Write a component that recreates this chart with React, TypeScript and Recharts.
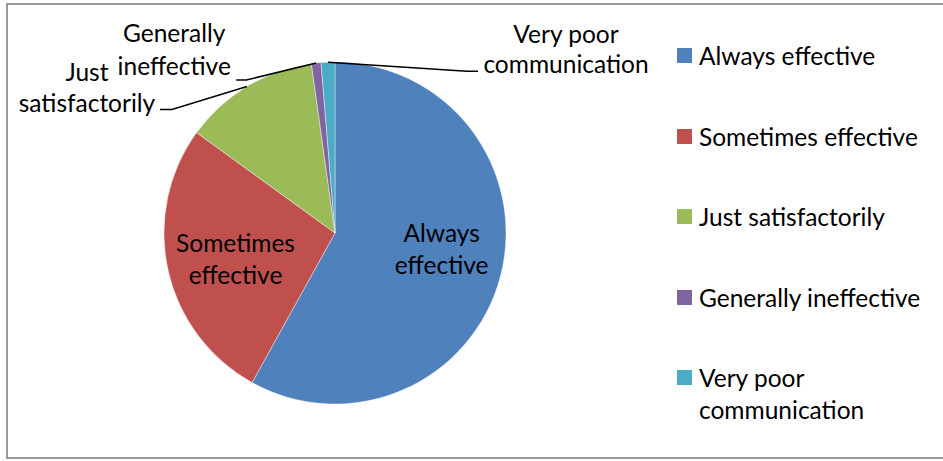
import { PieChart, Pie, Cell, Legend } from "recharts";

const categories = [
  "Always effective",
  "Sometimes effective",
  "Just satisfactorily",
  "Generally ineffective",
  "Very poor communication",
];
const shares = [58.0, 26.9, 12.8, 0.9, 1.3];
const colors = ["#4F81BD", "#C0504D", "#9BBB59", "#8064A2", "#4BACC6"];

// label text split into lines, as Excel wrapped them
const labelLines = [
  ["Always", "effective"],
  ["Sometimes", "effective"],
  ["Just", "satisfactorily"],
  ["Generally", "ineffective"],
  ["Very poor", "communication"],
];

const data = categories.map((name, i) => ({ name, value: shares[i] }));

const FONT = "Lato, 'Open Sans', sans-serif";
const FONT_SIZE = 24.5;
const RADIAN = Math.PI / 180;

// small nudges for the labels drawn inside their slices
const inside: Record<number, number[]> = {
  0: [4, -11],
  1: [4, 3],
};

// outside labels: elbow, line end and text centre, relative to the slice's outer edge point
const outside: Record<number, { elbow: number[]; end: number[]; text: number[]; l1: number; l2: number }> = {
  2: { elbow: [-75, 23], end: [-87, 23], text: [-160, 0], l1: -15, l2: 16 },
  3: { elbow: [-70, 17], end: [-80, 17], text: [-142, 0], l1: -31, l2: 2 },
  4: { elbow: [139, 9], end: [150, 9], text: [238, 0], l1: -29, l2: 1 },
};

const Txt = ({ x, y, children }: { x: number; y: number; children: string }) => (
  <text
    x={x}
    y={y}
    textAnchor="middle"
    dominantBaseline="central"
    fill="#000"
    fontFamily={FONT}
    fontSize={FONT_SIZE}
  >
    {children}
  </text>
);

const renderLabel = (props: any) => {
  const { cx, cy, midAngle, outerRadius, index } = props;
  const cos = Math.cos(-midAngle * RADIAN);
  const sin = Math.sin(-midAngle * RADIAN);
  const lines = labelLines[index];

  if (!outside[index]) {
    const r = outerRadius * 0.62;
    const nudge = inside[index] || [0, 0];
    const x = cx + r * cos + nudge[0];
    const y = cy + r * sin + nudge[1];
    return (
      <g>
        <Txt x={x} y={y - 16}>{lines[0]}</Txt>
        <Txt x={x} y={y + 16}>{lines[1]}</Txt>
      </g>
    );
  }

  const o = outside[index];
  const ox = cx + outerRadius * cos;
  const oy = cy + outerRadius * sin;
  const tx = ox + o.text[0];
  return (
    <g>
      <polyline
        points={`${ox},${oy} ${ox + o.elbow[0]},${oy + o.elbow[1]} ${ox + o.end[0]},${oy + o.end[1]}`}
        fill="none"
        stroke="#000"
        strokeWidth={1.5}
      />
      <Txt x={tx} y={oy + o.l1}>{lines[0]}</Txt>
      <Txt x={tx} y={oy + o.l2}>{lines[1]}</Txt>
    </g>
  );
};

const renderLegend = () => (
  <div style={{ fontFamily: FONT, fontSize: FONT_SIZE, color: "#000" }}>
    {categories.map((name, i) => (
      <div
        key={name}
        style={{ display: "flex", alignItems: "flex-start", marginBottom: 48.5, lineHeight: "32px" }}
      >
        <span
          style={{
            width: 15,
            height: 15,
            background: colors[i],
            marginTop: 8,
            marginRight: 7,
            flexShrink: 0,
          }}
        />
        <span style={{ width: 235 }}>{name}</span>
      </div>
    ))}
  </div>
);

export default function App() {
  return (
    <div style={{ position: "absolute", left: 0, top: 0, width: 943, height: 461, background: "#fff", overflow: "hidden" }}>
      <div
        style={{
          position: "absolute",
          left: 6,
          top: 3,
          width: 945,
          height: 456,
          border: "2px solid #9a9a9a",
          boxSizing: "border-box",
        }}
      />
      <PieChart
        width={943}
        height={461}
        margin={{ top: 0, right: 0, bottom: 0, left: 0 }}
        style={{ position: "absolute", left: 0, top: 0 }}
      >
        <Pie
          data={data}
          dataKey="value"
          nameKey="name"
          cx={335}
          cy={233}
          outerRadius={171}
          startAngle={90}
          endAngle={-270}
          stroke="#ffffff"
          strokeWidth={0.4}
          label={renderLabel}
          labelLine={false}
          isAnimationActive={false}
        >
          {data.map((d, i) => (
            <Cell key={d.name} fill={colors[i]} />
          ))}
        </Pie>
        <Legend
          layout="vertical"
          verticalAlign="top"
          align="right"
          content={renderLegend}
          wrapperStyle={{ left: 677, top: 40, width: 262 }}
        />
      </PieChart>
    </div>
  );
}
